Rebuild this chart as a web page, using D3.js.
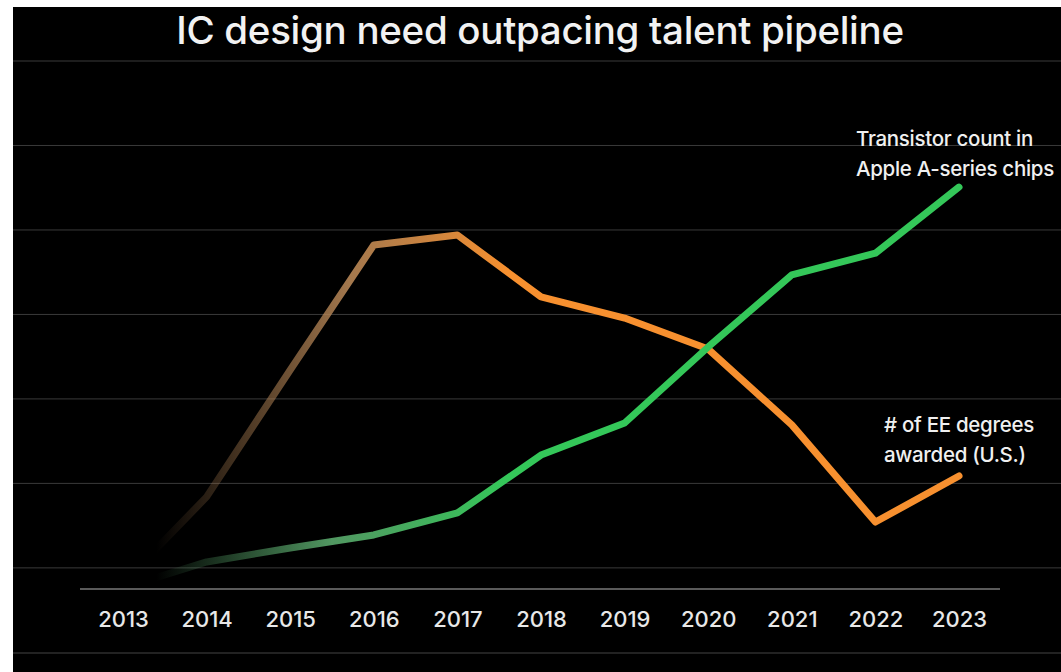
<!DOCTYPE html>
<html>
<head>
<meta charset="utf-8">
<script src="https://cdn.jsdelivr.net/npm/d3@7"></script>
<style>
  body { margin: 0; background: #fff; }
  .chart svg { display: block; }
</style>
</head>
<body>
<div class="chart"></div>
<script>
// years on the x axis
var years = [2013, 2014, 2015, 2016, 2017, 2018, 2019, 2020, 2021, 2022, 2023];

// transistor count (index)
var transistors = [0.05, 1.28, 1.94, 2.56, 3.6, 6.34, 7.86, 11.46, 14.87, 15.9, 19.03];

// EE degrees awarded (index)
var degrees = [0.28, 4.36, 10.37, 16.29, 16.76, 13.83, 12.83, 11.36, 7.77, 3.17, 5.35];

// background grid values
var gridValues = [1, 5, 9, 13, 17, 21, 25];

var width = 1061, height = 672;
var font = "Inter, 'Liberation Sans', sans-serif";

var svg = d3.select(".chart").append("svg")
  .attr("width", width)
  .attr("height", height);

// black slide area
svg.append("rect")
  .attr("x", 13).attr("y", 7)
  .attr("width", width - 13).attr("height", height - 7)
  .attr("fill", "#000");

var x = d3.scaleLinear().domain([2013, 2023]).range([123, 959]);
var y = d3.scaleLinear().domain([0, 25]).range([589, 61]);

// grid lines
svg.append("g").selectAll("line")
  .data(gridValues)
  .enter().append("line")
  .attr("x1", 13).attr("x2", width)
  .attr("y1", function(d) { return y(d); })
  .attr("y2", function(d) { return y(d); })
  .attr("stroke", "#3a3a3a")
  .attr("stroke-width", 1);

// bottom rule
svg.append("line")
  .attr("x1", 13).attr("x2", width)
  .attr("y1", 653).attr("y2", 653)
  .attr("stroke", "#2e2e2e").attr("stroke-width", 1.5);

// x axis
var xAxis = d3.axisBottom(x)
  .tickValues(years)
  .tickFormat(d3.format("d"))
  .tickSize(0)
  .tickPadding(22);

var xAxisGroup = svg.append("g")
  .attr("transform", "translate(0," + y(0) + ")")
  .call(xAxis);

xAxisGroup.select(".domain").remove();
xAxisGroup.append("line")
  .attr("x1", 80).attr("x2", 1000)
  .attr("y1", 0).attr("y2", 0)
  .attr("stroke", "#5a5a5a").attr("stroke-width", 2);

xAxisGroup.selectAll("text")
  .attr("fill", "#e8e8e8")
  .attr("font-family", font)
  .attr("font-weight", 500)
  .attr("font-size", 22);

// gradients fading the start of each line
var defs = svg.append("defs");

function fade(id, color, mid, stops) {
  var g = defs.append("linearGradient")
    .attr("id", id)
    .attr("gradientUnits", "userSpaceOnUse")
    .attr("x1", x(2013.4)).attr("x2", x(2017.6))
    .attr("y1", 0).attr("y2", 0);
  g.append("stop").attr("offset", 0).attr("stop-color", mid).attr("stop-opacity", 0);
  g.append("stop").attr("offset", stops).attr("stop-color", mid).attr("stop-opacity", 0.9);
  g.append("stop").attr("offset", 1).attr("stop-color", color).attr("stop-opacity", 1);
}

fade("fadeOrange", "#f7902f", "#b58556", 0.55);
fade("fadeGreen", "#34c759", "#5aa86c", 0.5);

var line = d3.line()
  .x(function(d, i) { return x(years[i]); })
  .y(function(d) { return y(d); })
  .curve(d3.curveLinear);

svg.append("path")
  .datum(degrees)
  .attr("d", line)
  .attr("fill", "none")
  .attr("stroke", "url(#fadeOrange)")
  .attr("stroke-width", 7)
  .attr("stroke-linejoin", "round")
  .attr("stroke-linecap", "round");

svg.append("path")
  .datum(transistors)
  .attr("d", line)
  .attr("fill", "none")
  .attr("stroke", "url(#fadeGreen)")
  .attr("stroke-width", 7)
  .attr("stroke-linejoin", "round")
  .attr("stroke-linecap", "round");

// title
svg.append("text")
  .attr("x", 540).attr("y", 44)
  .attr("text-anchor", "middle")
  .attr("fill", "#f2f2f2")
  .attr("font-family", font)
  .attr("font-weight", 500)
  .attr("font-size", 38.5)
  .attr("letter-spacing", -0.3)
  .text("IC design need outpacing talent pipeline");

// series labels
var labels = [
  {lines: ["Transistor count in", "Apple A-series chips"], x: 856, y: 146},
  {lines: ["# of EE degrees", "awarded (U.S.)"], x: 884, y: 432}
];

labels.forEach(function(l) {
  var t = svg.append("text")
    .attr("x", l.x).attr("y", l.y)
    .attr("fill", "#f0f0f0")
    .attr("font-family", font)
    .attr("font-weight", 500)
    .attr("font-size", 20.5)
    .attr("letter-spacing", -0.3);
  l.lines.forEach(function(s, i) {
    t.append("tspan").attr("x", l.x).attr("dy", i ? 30 : 0).text(s);
  });
});
</script>
</body>
</html>
